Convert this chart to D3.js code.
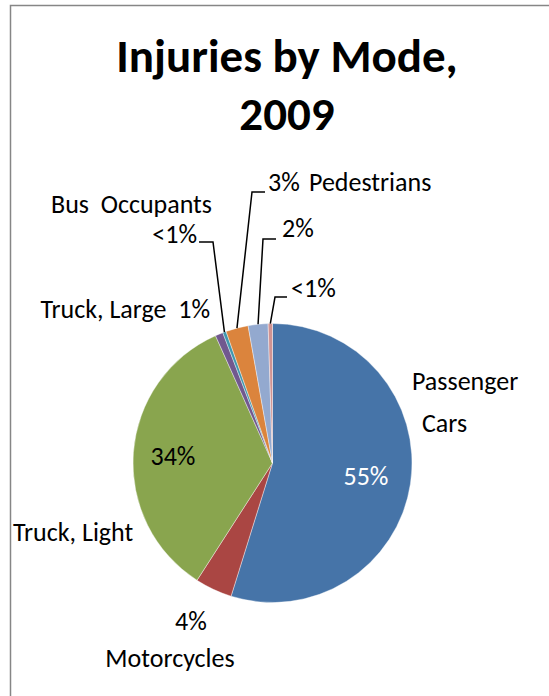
<!DOCTYPE html>
<html>
<head>
<meta charset="utf-8">
<script src="https://cdn.jsdelivr.net/npm/d3@7"></script>
<style>
    body { margin: 0; background: #fff; }
    text { white-space: pre; }
</style>
</head>
<body>
<div id="chart"></div>
<script>
// Chart data: injuries by mode, 2009 (shares in percent)
const categories = ["Passenger Cars", "Motorcycles", "Truck, Light", "Truck, Large",
    "Bus Occupants", "Pedestrians", "Pedalcyclists", "Other"];
const values = [54.8, 4.3, 34.2, 0.9, 0.4, 2.6, 2.3, 0.5];
const pctLabels = ["55%", "4%", "34%", "1%", "<1%", "3%", "2%", "<1%"];
const colors = ["#4674A8", "#AA4643", "#89A54E", "#71588F", "#4198AF", "#DB843D", "#93A9CF", "#D19392"];

// Where each slice's label sits (hand placed, as in the original spreadsheet chart)
// lines: [text, dx, dy, isPct] relative to label anchor, leader: corner points of the leader line
const labelLayout = [
    { x: 412, y: 390, anchor: "start", lines: [["Passenger", 0, 0], ["Cars", 10, 42]], pctAt: [366, 485], pctFill: "#fff" },
    { x: 170, y: 667, anchor: "middle", lines: [["Motorcycles", 0, 0]], pctAt: [191, 630] },
    { x: 13, y: 541, anchor: "start", lines: [["Truck, Light", 0, 0]], pctAt: [173, 465] },
    { x: 210, y: 318, anchor: "end", lines: [["Truck, Large  1%", 0, 0]] },
    { x: 212, y: 213, anchor: "end", lines: [["Bus  Occupants", 0, 0], ["", -15, 30, true]], leader: [[213, 242], [199, 242]] },
    { x: 309, y: 191, anchor: "start", lines: [["Pedestrians", 0, 0], ["", -41, 0, true]], leader: [[252, 192], [265, 192]] },
    { x: 282, y: 237, anchor: "start", lines: [["", 0, 0, true]], leader: [[263, 239], [276, 239]] },
    { x: 291, y: 297, anchor: "start", lines: [["", 0, 0, true]], leader: [[275, 297], [287, 297]] }
];

const width = 549, height = 696;
const cx = 272.5, cy = 463, radius = 139.5;
const fontFamily = "Calibri, Carlito, Lato, sans-serif";
const labelSize = "26px";

const svg = d3.select("#chart").append("svg")
    .attr("width", width)
    .attr("height", height)
    .style("font-family", fontFamily);

// Chart area frame (runs off the right and bottom edge)
svg.append("rect")
    .attr("x", 10.5).attr("y", 5.5)
    .attr("width", 600).attr("height", 720)
    .attr("fill", "none")
    .attr("stroke", "#868686")
    .attr("stroke-width", 1.5);

// Title
const title = svg.append("text")
    .attr("text-anchor", "middle")
    .style("font-size", "47px")
    .style("font-weight", "bold");
title.append("tspan").attr("x", 287).attr("y", 72).text("Injuries by Mode,");
title.append("tspan").attr("x", 287).attr("y", 130).text("2009");

// Pie layout, clockwise from 12 o'clock, keeping data order
const pie = d3.pie().sort(null).value(d => d)(values);
const arc = d3.arc().innerRadius(0).outerRadius(radius);
const outer = d3.arc().innerRadius(radius).outerRadius(radius);

const g = svg.append("g").attr("transform", `translate(${cx},${cy})`);

g.selectAll("path")
    .data(pie)
    .enter().append("path")
    .attr("d", arc)
    .attr("fill", (d, i) => colors[i])
    .attr("stroke", "#fff")
    .attr("stroke-width", 0.4);

// Leader lines for the thin slices
pie.forEach((d, i) => {
    const lay = labelLayout[i];
    if (!lay.leader) return;
    const [px, py] = outer.centroid(d);
    const pts = [[cx + px, cy + py]].concat(lay.leader);
    svg.append("path")
        .attr("d", d3.line()(pts))
        .attr("fill", "none")
        .attr("stroke", "#000")
        .attr("stroke-width", 1.5);
});

// Category and percent labels
labelLayout.forEach((lay, i) => {
    lay.lines.forEach(([txt, dx, dy, isPct]) => {
        svg.append("text")
            .attr("x", lay.x + dx)
            .attr("y", lay.y + dy)
            .attr("text-anchor", lay.anchor)
            .style("font-size", labelSize)
            .attr("fill", "#000")
            .text(isPct ? pctLabels[i] : txt);
    });
    if (lay.pctAt) {
        svg.append("text")
            .attr("x", lay.pctAt[0])
            .attr("y", lay.pctAt[1])
            .attr("text-anchor", "middle")
            .style("font-size", labelSize)
            .attr("fill", lay.pctFill || "#000")
            .text(pctLabels[i]);
    }
});
</script>
</body>
</html>
